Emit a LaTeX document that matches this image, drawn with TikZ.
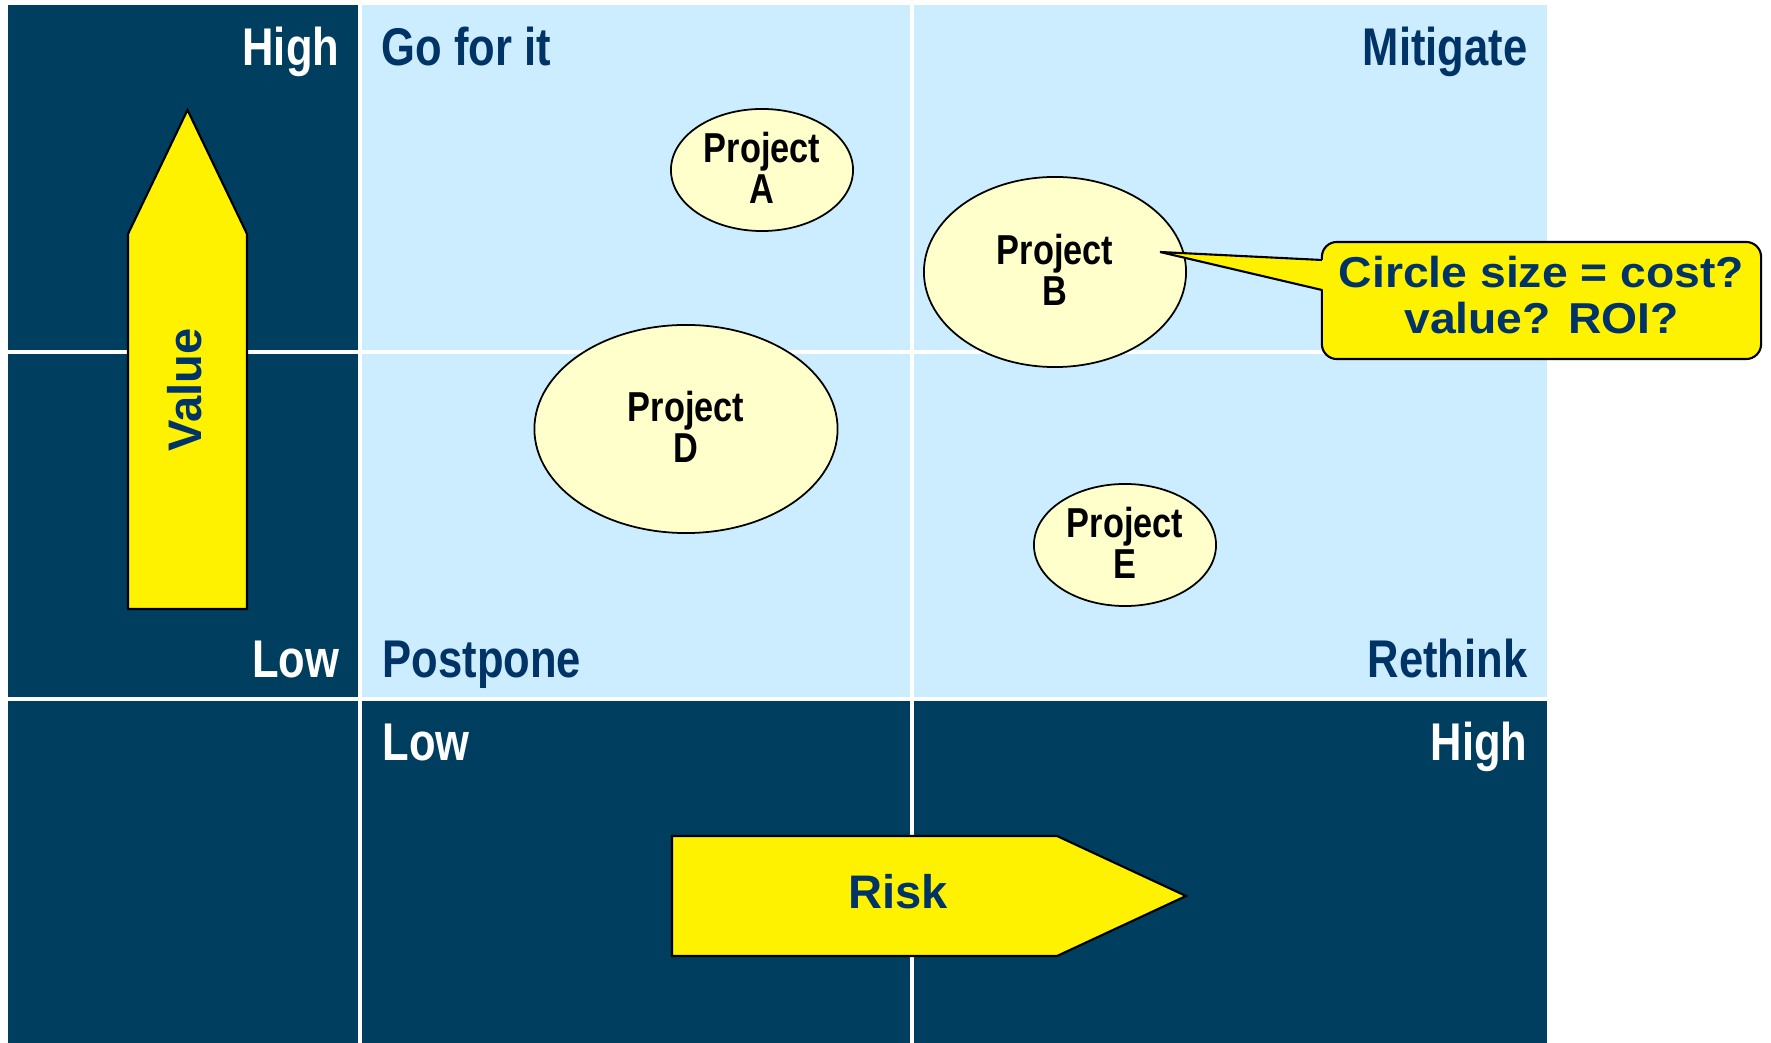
\documentclass[tikz,border=0pt]{standalone}
\usepackage{fontspec}
\setmainfont{Liberation Sans}
\newfontfamily\narrowfont{Liberation Sans}[FakeStretch=0.82]
\newfontfamily\widefont{Liberation Sans}[FakeStretch=1.07]
\usetikzlibrary{shapes.geometric}
\definecolor{panel}{RGB}{0,62,95}
\definecolor{quad}{RGB}{204,236,255}
\definecolor{ink}{RGB}{0,51,102}
\definecolor{bubble}{RGB}{255,255,204}

\begin{document}
\begin{tikzpicture}[x=0.01cm, y=-0.01cm,
	proj/.style={ellipse, draw=black, line width=0.5pt, fill=bubble, inner sep=0pt, align=center, text depth=0.05cm, font=\narrowfont\bfseries\fontsize{11.9}{11.7}\selectfont},
	lbl/.style={inner sep=0pt, font=\narrowfont\bfseries\fontsize{15.1}{18}\selectfont},
	sepline/.style={white, line width=0.9pt},
	axis arrow/.style={draw=black, fill=yellow, line width=0.6pt},
	axis text/.style={inner sep=0pt, text=ink, font=\bfseries\fontsize{13.4}{16}\selectfont}]
	\useasboundingbox (0,0) rectangle (1771,1043);
	\fill[panel] (8,5) rectangle (1547,1043);
	\fill[quad] (360,5) rectangle (1547,699);
	\draw[sepline] (360,5) -- (360,1043);
	\draw[sepline] (912,5) -- (912,1043);
	\draw[sepline] (8,352) -- (1547,352);
	\draw[sepline] (8,699) -- (1547,699);

	\node[lbl, text=white, anchor=base east] (vhigh) at (340,66) {High};
	\node[lbl, text=white, anchor=base east] (vlow) at (340,678) {Low};
	\node[lbl, text=white, anchor=base west] (rlow) at (382,761) {Low};
	\node[lbl, text=white, anchor=base east] (rhigh) at (1528,761) {High};
	\node[lbl, text=ink, anchor=base west] (gofor) at (381,66) {Go for it};
	\node[lbl, text=ink, anchor=base east] (mitig) at (1528,66) {Mitigate};
	\node[lbl, text=ink, anchor=base west] (postp) at (382,678) {Postpone};
	\node[lbl, text=ink, anchor=base east] (rethink) at (1528,678) {Rethink};

	\draw[axis arrow] (128,609) -- (128,234) -- (187.5,110) -- (247,234) -- (247,609) -- cycle;
	\node[axis text, rotate=90, anchor=base] (value) at (202,390) {Value};
	\draw[axis arrow] (672,836) -- (1057,836) -- (1186,896) -- (1057,956) -- (672,956) -- cycle;
	\node[axis text, anchor=base] (risk) at (898,909) {Risk};

	\node[proj, minimum width=1.82cm, minimum height=1.22cm] (pa) at (762,170) {Project\\A};
	\node[proj, minimum width=2.62cm, minimum height=1.90cm] (pb) at (1055,272) {Project\\B};
	\node[proj, minimum width=3.03cm, minimum height=2.08cm] (pd) at (686,429) {Project\\D};
	\node[proj, minimum width=1.82cm, minimum height=1.22cm] (pe) at (1125,545) {Project\\E};

	\node[draw=black, line width=0.6pt, fill=yellow, rounded corners=0.15cm, minimum width=4.39cm, minimum height=1.17cm, align=center, text depth=0.12cm, text=ink, font=\widefont\bfseries\fontsize{12.3}{13.1}\selectfont] (note) at (1541.5,300.5) {Circle size = cost?\\value? ROI?};
	\coordinate (tip) at (1160,252);
	\coordinate (pu) at (1322,260);
	\coordinate (pl) at (1322,290);
	\fill[yellow] ([xshift=1pt]pu) -- (tip) -- ([xshift=1pt]pl) -- cycle;
	\draw[line width=0.6pt] (pu) -- (tip) -- (pl);
\end{tikzpicture}
\end{document}
